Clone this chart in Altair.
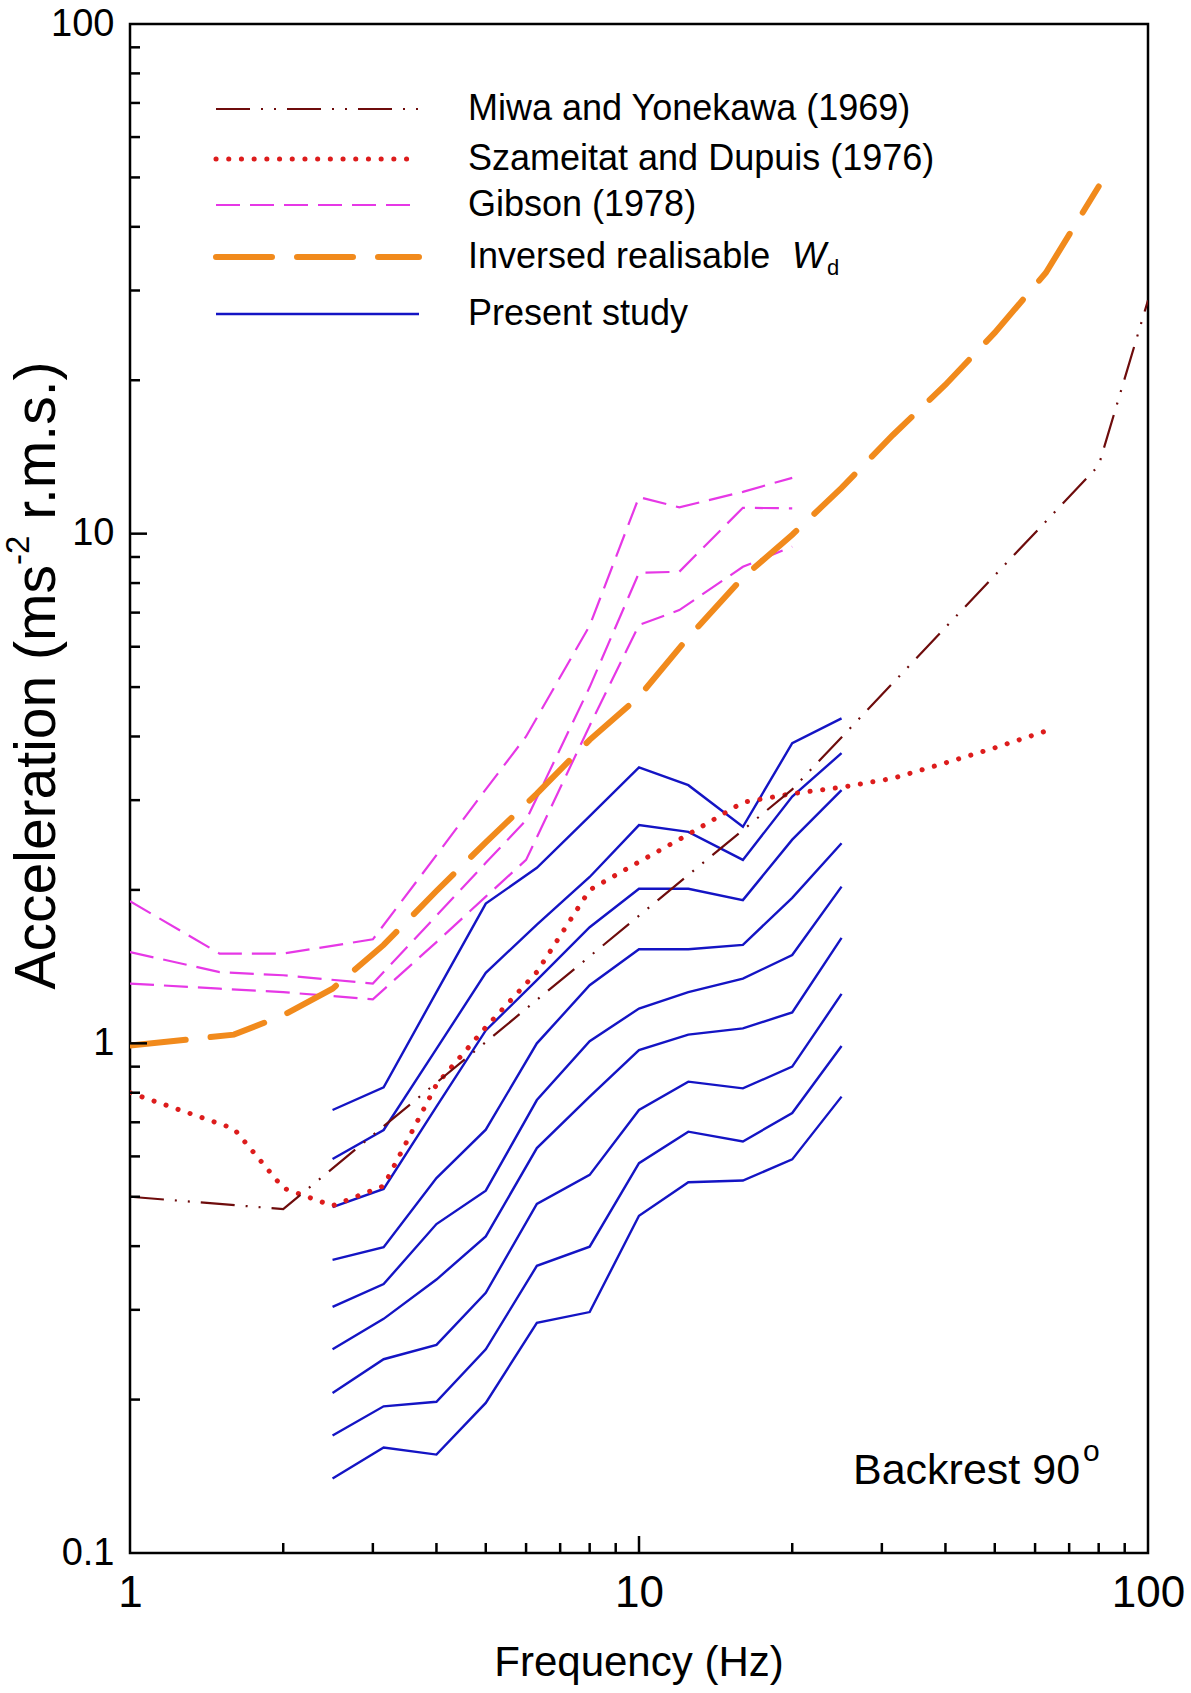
import altair as alt
import pandas as pd

PLOT_W, PLOT_H = 1018, 1529
FONT = "Liberation Sans"

# ---------------- data ----------------
freq_present = [2.5, 3.15, 4, 5, 6.3, 8, 10, 12.5, 16, 20, 25]
present_1 = [0.740, 0.820, 1.26, 1.88, 2.21, 2.79, 3.48, 3.21, 2.66, 3.88, 4.34]
present_2 = [0.593, 0.676, 0.975, 1.375, 1.71, 2.12, 2.68, 2.60, 2.29, 3.05, 3.71]
present_3 = [0.477, 0.518, 0.751, 1.06, 1.33, 1.69, 2.01, 2.01, 1.91, 2.51, 3.14]
present_4 = [0.376, 0.398, 0.544, 0.677, 1.00, 1.30, 1.53, 1.53, 1.56, 1.93, 2.47]
present_5 = [0.304, 0.337, 0.442, 0.514, 0.774, 1.01, 1.17, 1.26, 1.34, 1.49, 2.03]
present_6 = [0.251, 0.288, 0.344, 0.418, 0.623, 0.786, 0.970, 1.04, 1.07, 1.15, 1.61]
present_7 = [0.206, 0.240, 0.256, 0.324, 0.484, 0.552, 0.740, 0.841, 0.816, 0.900, 1.25]
present_8 = [0.170, 0.194, 0.198, 0.251, 0.366, 0.399, 0.582, 0.671, 0.642, 0.730, 0.988]
present_9 = [0.140, 0.161, 0.156, 0.197, 0.283, 0.297, 0.459, 0.534, 0.538, 0.592, 0.786]

freq_gibson = [1, 1.5, 2, 3, 4, 5, 6, 8, 10, 12, 16, 20]
gibson_1 = [1.90, 1.50, 1.50, 1.60, 2.34, 3.15, 4.0, 6.6, 11.8, 11.26, 12.08, 12.87]
gibson_2 = [1.51, 1.38, 1.36, 1.31, 1.78, 2.26, 2.74, 5.0, 8.38, 8.42, 11.24, 11.21]
gibson_3 = [1.31, 1.28, 1.26, 1.22, 1.58, 1.94, 2.29, 4.2, 6.62, 7.08, 8.61, 9.43]

freq_wd = [1, 1.6, 2, 2.5, 3.15, 4, 5, 6.3, 8, 10, 12.5, 16, 20, 25, 31.5, 40, 50, 63, 80]
inv_wd = [0.99, 1.04, 1.135, 1.28, 1.56, 1.99, 2.48, 3.09, 3.94, 4.79, 6.26, 8.2,
          9.95, 12.3, 15.6, 19.6, 24.8, 32.5, 48.0]

freq_miwa = [1, 2, 20, 80, 100]
miwa = [0.50, 0.473, 3.15, 13.6, 28.7]

freq_sz = [1, 1.6, 2, 2.5, 3.15, 4, 5, 6.3, 8, 10, 12.5, 16, 20, 25, 31.5, 40, 50, 63]
szameitat = [0.80, 0.68, 0.52, 0.48, 0.525, 0.83, 1.075, 1.38, 2.0, 2.27, 2.57, 2.97,
             3.09, 3.18, 3.31, 3.55, 3.8, 4.1]

legend_labels = ["Miwa and Yonekawa (1969)", "Szameitat and Dupuis (1976)",
                 "Gibson (1978)", "Inversed realisable", "Present study"]

x_labels = [1, 10, 100]
y_labels = [0.1, 1, 10, 100]
x_major = [10]
x_minor = [2, 3, 4, 5, 6, 7, 8, 9, 20, 30, 40, 50, 60, 70, 80, 90]
y_major = [1, 10]
y_minor = [0.2, 0.3, 0.4, 0.5, 0.6, 0.7, 0.8, 0.9, 2, 3, 4, 5, 6, 7, 8, 9,
           20, 30, 40, 50, 60, 70, 80, 90]

# ---------------- helpers ----------------
def long_df(freqs, series):
    rows = []
    for name, vals in series.items():
        for f, v in zip(freqs, vals):
            rows.append({"f": f, "a": v, "s": name})
    return pd.DataFrame(rows)

xscale = alt.Scale(type="log", domain=[1, 100], nice=False)
yscale = alt.Scale(type="log", domain=[0.1, 100], nice=False)
xaxis = alt.Axis(values=x_labels, format="~g", ticks=False, domain=False, grid=False,
                 labelFontSize=44, labelFont=FONT, labelColor="black", labelPadding=18,
                 labelFlush=False, labelOverlap=False, title=None)
yaxis = alt.Axis(values=y_labels, format="~g", ticks=False, domain=False, grid=False,
                 labelFontSize=38, labelFont=FONT, labelColor="black", labelPadding=16,
                 labelFlush=False, labelOverlap=False, title=None)

def X(field="f"):
    return alt.X(f"{field}:Q", scale=xscale, axis=xaxis)

def Y(field="a"):
    return alt.Y(f"{field}:Q", scale=yscale, axis=yaxis)

def line_layer(df, color, width, dash=None, cap="butt"):
    kw = dict(color=color, strokeWidth=width, clip=True, strokeCap=cap, strokeJoin="miter")
    if dash:
        kw["strokeDash"] = dash
    return alt.Chart(df).mark_line(**kw).encode(
        x=X(), y=Y(), detail="s:N", order="f:Q")

one = pd.DataFrame({"k": [0]})

def text_layer(txt, x, y, size, align="left", baseline="middle", angle=None, italic=False):
    kw = dict(fontSize=size, font=FONT, align=align, baseline=baseline, color="black")
    if angle is not None:
        kw["angle"] = angle
    if italic:
        kw["fontStyle"] = "italic"
    return alt.Chart(pd.DataFrame({"t": [txt]})).mark_text(**kw).encode(
        text="t:N", x=alt.value(x), y=alt.value(y))

def legend_rule(y, color, width, dash=None, cap="butt"):
    kw = dict(color=color, strokeWidth=width, strokeCap=cap)
    if dash:
        kw["strokeDash"] = dash
    return alt.Chart(one).mark_rule(**kw).encode(
        x=alt.value(86), x2=alt.value(289), y=alt.value(y))

# ---------------- styles ----------------
BLUE = "#1414C4"
MAGENTA = "#E638E6"
ORANGE = "#F18A1C"
RED = "#DD1C1C"
DARKRED = "#6E0C0C"

MIWA_DASH = [34, 11, 2, 11, 2, 11]
SZ_DASH = [0.1, 12.6]
GIB_DASH = [24, 10]
WD_DASH = [56, 25]

present = long_df(freq_present, {
    "p1": present_1, "p2": present_2, "p3": present_3, "p4": present_4, "p5": present_5,
    "p6": present_6, "p7": present_7, "p8": present_8, "p9": present_9})
gibson = long_df(freq_gibson, {"g1": gibson_1, "g2": gibson_2, "g3": gibson_3})
wd = long_df(freq_wd, {"wd": inv_wd})
miwa_df = long_df(freq_miwa, {"miwa": miwa})
sz_df = long_df(freq_sz, {"sz": szameitat})

layers = [
    line_layer(present, BLUE, 2.4),
    line_layer(gibson, MAGENTA, 2.2, GIB_DASH),
    line_layer(wd, ORANGE, 6, WD_DASH, cap="round"),
    line_layer(sz_df, RED, 5, SZ_DASH, cap="round"),
    line_layer(miwa_df, DARKRED, 2.2, MIWA_DASH),
]

# inward ticks
def yticks(vals, length):
    return alt.Chart(pd.DataFrame({"a": vals})).mark_rule(color="black", strokeWidth=2.5).encode(
        y=Y("a"), x=alt.value(0), x2=alt.value(length))

def xticks(vals, length):
    return alt.Chart(pd.DataFrame({"f": vals})).mark_rule(color="black", strokeWidth=2.5).encode(
        x=X("f"), y=alt.value(PLOT_H), y2=alt.value(PLOT_H - length))

layers += [yticks(y_minor, 10), yticks(y_major, 17), xticks(x_minor, 10), xticks(x_major, 17)]

# legend
rows_y = [85, 135, 181, 233, 290]
layers += [
    legend_rule(rows_y[0], DARKRED, 2.2, MIWA_DASH),
    legend_rule(rows_y[1], RED, 5, SZ_DASH, cap="round"),
    legend_rule(rows_y[2], MAGENTA, 2.2, GIB_DASH),
    legend_rule(rows_y[3], ORANGE, 6, WD_DASH, cap="round"),
    legend_rule(rows_y[4], BLUE, 2.4),
]
LEG_FS = 36
for lab, yy in zip(legend_labels, rows_y):
    layers.append(text_layer(lab, 338, yy, LEG_FS))
w_x = 338 + 8.392 * LEG_FS + 0.278 * LEG_FS + 12
layers.append(text_layer("W", w_x, rows_y[3], LEG_FS, italic=True))
layers.append(text_layer("d", w_x + 0.944 * LEG_FS + 1, rows_y[3] + 11, 22))

# annotation
BR_FS = 43
layers.append(text_layer("Backrest 90", 723, 1447, BR_FS))
layers.append(text_layer("o", 723 + 5.28 * BR_FS + 3, 1428, 30))

# axis titles
layers.append(text_layer("Frequency (Hz)", PLOT_W / 2, 1639, 42, align="center"))
YT_FS, YT_SUP = 57, 33
w1 = 7.446 * YT_FS
w2 = 0.889 * YT_SUP
w3 = 3.111 * YT_FS
total = w1 + w2 + 0.278 * YT_FS + w3
y_start = 642 + total / 2
layers.append(text_layer("Acceleration (ms", -92, y_start, YT_FS, angle=270))
layers.append(text_layer("-2", -92 - 19, y_start - w1, YT_SUP, angle=270))
layers.append(text_layer("r.m.s.)", -92, y_start - w1 - w2 - 0.278 * YT_FS, YT_FS, angle=270))

chart = alt.layer(*layers).properties(
    width=PLOT_W, height=PLOT_H,
    padding={"left": 130, "top": 24, "right": 43, "bottom": 140},
    autosize="none", background="white",
).configure_view(stroke="black", strokeWidth=2.5)

chart.save("out.html", embed_options={"renderer": "svg", "actions": False})
